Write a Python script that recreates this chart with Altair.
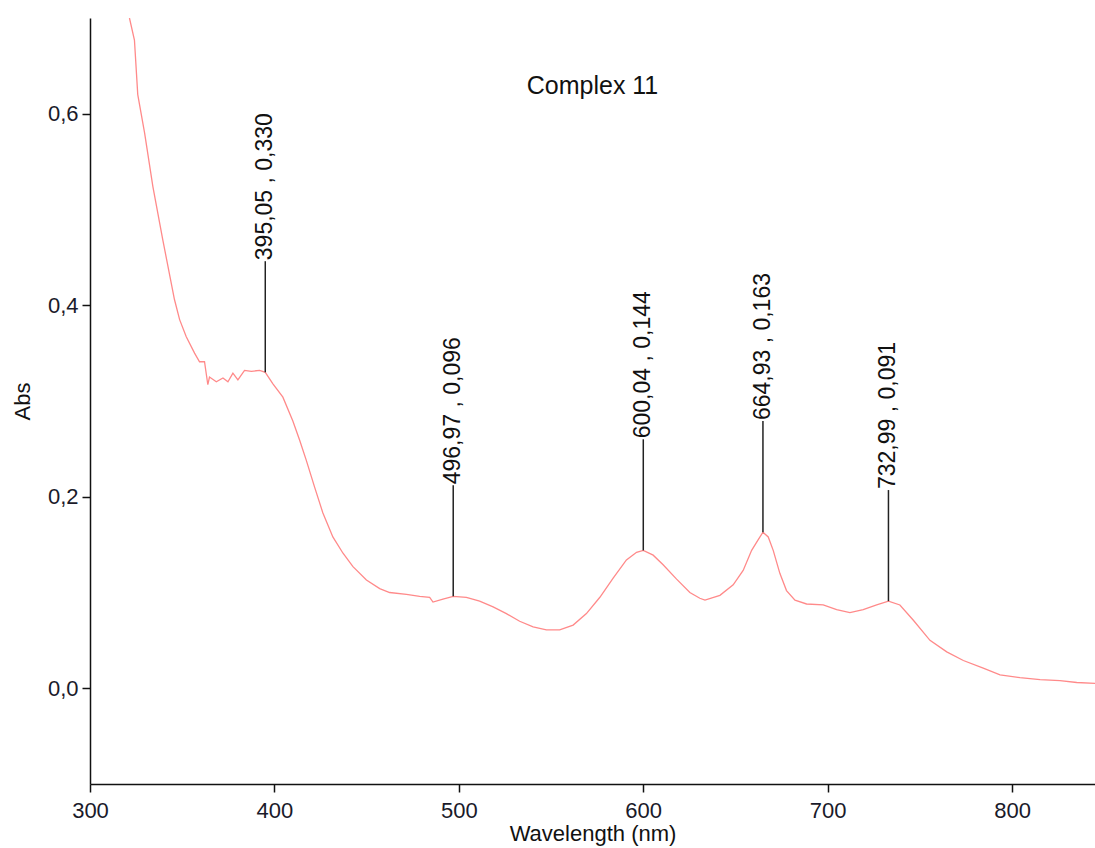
import altair as alt
import pandas as pd

# Spectrum
wavelength = [321.4, 324.1, 325.9, 329.6, 334.1, 339.5, 345.8, 348.6, 352.2, 356.7,
              359.4, 362.1, 363.9, 364.8, 368.5, 372.1, 374.8, 377.5, 380.2, 383.8,
              387.5, 392.0, 395.05, 399.2, 404.6, 410.0, 413.7, 417.3, 421.8, 426.3,
              431.7, 437.2, 442.6, 449.9, 457.1, 462.5, 471.6, 478.8, 484.2, 486.0,
              491.4, 496.97, 504.1, 511.3, 518.6, 525.8, 533.0, 540.3, 547.5, 554.7,
              562.0, 569.2, 576.5, 583.7, 590.9, 596.4, 600.04, 605.4, 610.8, 618.1,
              625.3, 630.7, 633.5, 641.6, 648.8, 654.2, 658.8, 662.3, 664.93, 667.8,
              670.5, 674.1, 677.7, 682.3, 688.6, 697.6, 704.9, 712.1, 719.3, 726.6,
              732.99, 739.2, 746.5, 755.5, 764.6, 773.6, 784.4, 793.5, 804.3, 815.2,
              826.0, 835.1, 845.0]
absorbance = [0.700, 0.677, 0.620, 0.580, 0.524, 0.468, 0.406, 0.385, 0.367, 0.350,
              0.341, 0.341, 0.317, 0.325, 0.320, 0.324, 0.320, 0.329, 0.322, 0.332,
              0.331, 0.332, 0.330, 0.318, 0.304, 0.279, 0.259, 0.238, 0.210, 0.183,
              0.158, 0.141, 0.127, 0.113, 0.104, 0.100, 0.098, 0.096, 0.095, 0.090,
              0.093, 0.096, 0.095, 0.091, 0.085, 0.078, 0.070, 0.064, 0.061, 0.061,
              0.066, 0.078, 0.095, 0.115, 0.134, 0.142, 0.144, 0.139, 0.129, 0.114,
              0.100, 0.094, 0.092, 0.097, 0.108, 0.123, 0.144, 0.155, 0.163, 0.158,
              0.144, 0.120, 0.102, 0.092, 0.088, 0.087, 0.082, 0.079, 0.082, 0.087,
              0.091, 0.087, 0.071, 0.050, 0.038, 0.029, 0.021, 0.014, 0.011, 0.009,
              0.008, 0.006, 0.005]

# Peak annotations
peak_wl = [395.05, 496.97, 600.04, 664.93, 732.99]
peak_abs = [0.330, 0.096, 0.144, 0.163, 0.091]
peak_label = ["395,05 , 0,330", "496,97 , 0,096", "600,04 , 0,144",
              "664,93 , 0,163", "732,99 , 0,091"]

x_ticks = [300, 400, 500, 600, 700, 800]
y_ticks = [0.0, 0.2, 0.4, 0.6]

FONT = "Liberation Sans"

spec = pd.DataFrame({"wl": wavelength, "abs": absorbance})
peaks = pd.DataFrame({"wl": peak_wl, "abs": peak_abs, "label": peak_label})

xscale = alt.Scale(domain=[300, 845], nice=False, zero=False)
yscale = alt.Scale(domain=[-0.1, 0.7], nice=False, zero=False)

comma = "replace(format(datum.value, '.1f'), '.', ',')"

xaxis = alt.Axis(title="Wavelength (nm)", values=x_ticks, format="d", grid=False,
                 labelFlush=False,
                 domainColor="#111", domainWidth=1.5, tickColor="#111", tickWidth=1.5,
                 tickSize=8, labelFont=FONT, labelFontSize=22, labelColor="#1a1a2a",
                 labelPadding=8, titleFont=FONT, titleFontSize=22,
                 titleFontWeight="normal", titleColor="#111", titlePadding=2)
yaxis = alt.Axis(title="Abs", values=y_ticks, labelExpr=comma, grid=False,
                 labelFlush=False,
                 domainColor="#111", domainWidth=1.5, tickColor="#111", tickWidth=1.5,
                 tickSize=8, labelFont=FONT, labelFontSize=22, labelColor="#1a1a2a",
                 labelPadding=4, titleFont=FONT, titleFontSize=22,
                 titleFontWeight="normal", titleColor="#111", titlePadding=13)

line = alt.Chart(spec).mark_line(color="#ff8a8a", strokeWidth=1.3, clip=True).encode(
    x=alt.X("wl:Q", scale=xscale, axis=xaxis),
    y=alt.Y("abs:Q", scale=yscale, axis=yaxis),
)

base = alt.Chart(peaks).transform_calculate(top="datum.abs + 0.116")

rules = base.mark_rule(color="#222", strokeWidth=1.5).encode(
    x=alt.X("wl:Q", scale=xscale),
    y=alt.Y("abs:Q", scale=yscale),
    y2="top:Q",
)

labels = base.mark_text(angle=270, align="left", baseline="middle", font=FONT,
                        fontSize=23, color="#111", dx=1).encode(
    x=alt.X("wl:Q", scale=xscale),
    y=alt.Y("top:Q", scale=yscale),
    text="label:N",
)

chart = alt.layer(line, rules, labels).properties(
    width=1005,
    height=766,
    background="white",
    title=alt.TitleParams("Complex 11", font=FONT, fontSize=25, fontWeight="normal",
                          color="#111", anchor="middle", offset=-81),
    autosize=alt.AutoSizeParams(type="none"),
    padding={"left": 90, "top": 18, "right": 0, "bottom": 64},
).configure_view(stroke="transparent", strokeWidth=0)

chart.save("out.html", embed_options={"renderer": "svg", "actions": False})
